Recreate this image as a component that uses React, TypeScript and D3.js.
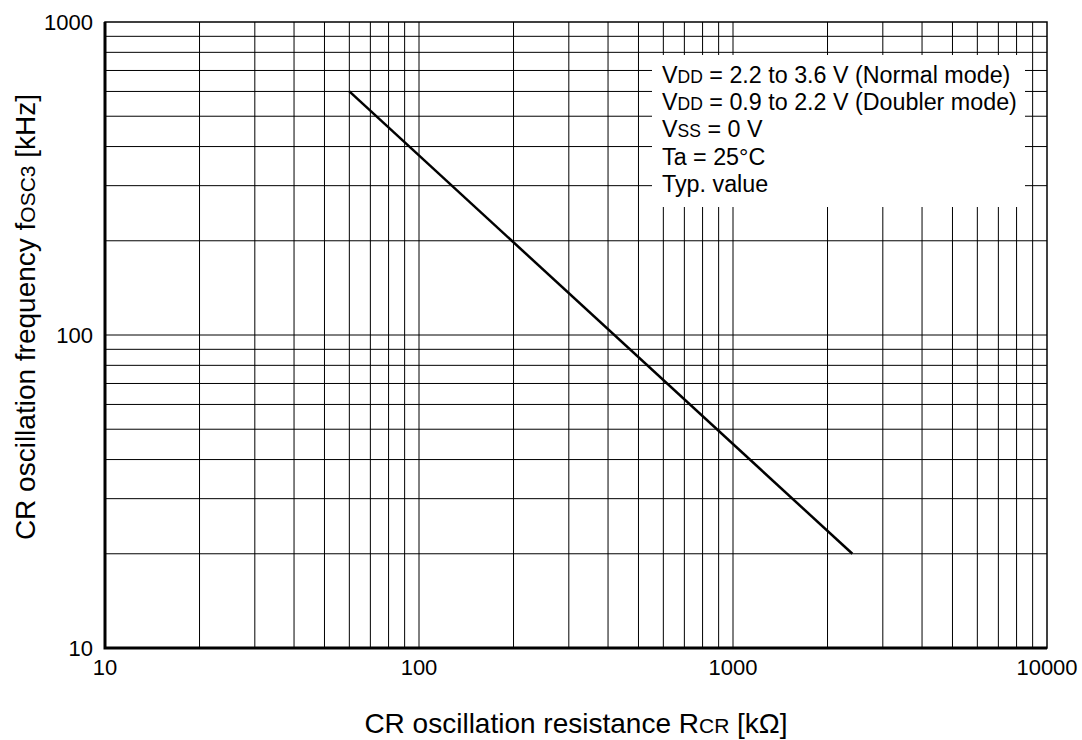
import React, {useEffect, useRef} from 'react';
import * as d3 from 'd3';

// curve end points
const resistance = [60, 2400]; // kΩ
const frequency = [600, 20]; // kHz

const xTicks = [10, 100, 1000, 10000];
const yTicks = [10, 100, 1000];

const noteLines = [
  ['V', 'DD', ' = 2.2 to 3.6 V (Normal mode)'],
  ['V', 'DD', ' = 0.9 to 2.2 V (Doubler mode)'],
  ['V', 'SS', ' = 0 V'],
  ['Ta = 25°C', '', ''],
  ['Typ. value', '', ''],
];

const App: React.FC = () => {
  const svgRef = useRef<SVGSVGElement | null>(null);

  useEffect(() => {
    const width = 1082;
    const height = 740;
    const margin = {top: 22, right: 35, bottom: 92, left: 105};

    const svg = d3.select(svgRef.current).attr('width', width).attr('height', height);
    svg.selectAll('*').remove();
    svg.style('font-family', '"Liberation Sans", Arial, sans-serif');

    const x = d3.scaleLog().domain([10, 10000]).range([margin.left, width - margin.right]);
    const y = d3.scaleLog().domain([10, 1000]).range([height - margin.bottom, margin.top]);

    const gridX: number[] = [];
    for (let d = 10; d < 10000; d *= 10) for (let k = 1; k < 10; k++) gridX.push(d * k);
    const gridY: number[] = [];
    for (let d = 10; d < 1000; d *= 10) for (let k = 1; k < 10; k++) gridY.push(d * k);

    const grid = svg.append('g').attr('stroke', '#000').attr('stroke-width', 1);
    grid.selectAll('line.gx').data(gridX).enter().append('line')
      .attr('x1', (d) => x(d)).attr('x2', (d) => x(d))
      .attr('y1', y(10)).attr('y2', y(1000));
    grid.selectAll('line.gy').data(gridY).enter().append('line')
      .attr('y1', (d) => y(d)).attr('y2', (d) => y(d))
      .attr('x1', x(10)).attr('x2', x(10000));

    // white box behind the notes
    svg.append('rect').attr('x', 652).attr('y', 55).attr('width', 373).attr('height', 152).attr('fill', '#fff');

    // frame
    svg.append('rect').attr('x', x(10)).attr('y', y(1000))
      .attr('width', x(10000) - x(10)).attr('height', y(10) - y(1000))
      .attr('fill', 'none').attr('stroke', '#000').attr('stroke-width', 1.5);
    svg.append('path')
      .attr('d', `M${x(10)},${y(1000)}V${y(10)}H${x(10000)}`)
      .attr('fill', 'none').attr('stroke', '#000').attr('stroke-width', 3);

    // curve
    const pts = resistance.map((r, i) => [r, frequency[i]] as [number, number]);
    svg.append('path')
      .datum(pts)
      .attr('d', d3.line<[number, number]>().x((d) => x(d[0])).y((d) => y(d[1])))
      .attr('fill', 'none').attr('stroke', '#000').attr('stroke-width', 2.5);

    // tick labels
    svg.selectAll('text.yt').data(yTicks).enter().append('text')
      .attr('x', x(10) - 12).attr('y', (d) => y(d) + 7.5)
      .attr('text-anchor', 'end').attr('font-size', 22).text((d) => d);
    svg.selectAll('text.xt').data(xTicks).enter().append('text')
      .attr('x', (d) => x(d)).attr('y', y(10) + 27)
      .attr('text-anchor', 'middle').attr('font-size', 22).text((d) => d);

    // axis titles
    const xt = svg.append('text').attr('x', 576).attr('y', 733)
      .attr('text-anchor', 'middle').attr('font-size', 28);
    xt.append('tspan').text('CR oscillation resistance R');
    xt.append('tspan').attr('font-size', 21).text('CR');
    xt.append('tspan').text(' [kΩ]');

    const yt = svg.append('text')
      .attr('transform', `translate(35,${317}) rotate(-90)`)
      .attr('text-anchor', 'middle').attr('font-size', 28);
    yt.append('tspan').text('CR oscillation frequency f');
    yt.append('tspan').attr('font-size', 21).text('OSC3');
    yt.append('tspan').text(' [kHz]');

    // notes
    const notes = svg.append('g').attr('font-size', 23.3);
    noteLines.forEach((l, i) => {
      const t = notes.append('text').attr('x', 662).attr('y', 83 + i * 27.2);
      t.append('tspan').text(l[0]);
      if (l[1]) t.append('tspan').attr('font-size', 17.5).text(l[1]);
      if (l[2]) t.append('tspan').text(l[2]);
    });
  }, []);

  return <svg ref={svgRef} style={{display: 'block', position: 'absolute', left: 0, top: 0}}></svg>;
};

export default App;
